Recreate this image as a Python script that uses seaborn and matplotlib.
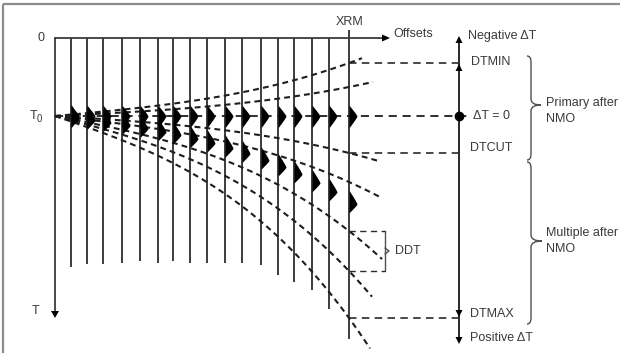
import numpy as np
import matplotlib
matplotlib.use("Agg")
import matplotlib.pyplot as plt
from matplotlib.path import Path
from matplotlib.patches import PathPatch, Polygon
import seaborn as sns

# ---- gather geometry (drawing units: x = offset position, y = time, downward) ----
trace_offsets = [71, 87, 103, 122, 140, 158, 173, 190, 207, 225, 242, 261, 278, 294, 312, 329, 349]
trace_bottoms = [267, 264, 264, 263, 261, 263, 261, 263, 263, 263, 263, 265, 275, 282, 290, 309, 339]
origin_x = 55          # position of the T axis (zero offset)
zero_time = 38         # time 0 line
t0_time = 116          # T0
xrm_offset = 349       # XRM trace
xrm_top = 30

# residual moveout of each dashed curve at XRM (negative = over-corrected)
curve_names = ["DTMIN", "neg", "DTCUT", "mult", "DDT top", "DDT bottom", "DTMAX"]
curve_dt = [-53, -29, 37, 66, 115, 155, 202]
curve_ends = [362, 373, 377, 380, 382, 372, 370]
multiple_dt = 88       # moveout of the multiple event at XRM

# right-hand delta-T scale
scale_x = 459
scale_labels = ["Negative \u0394T", "DTMIN", "\u0394T = 0", "DTCUT", "DTMAX", "Positive \u0394T"]
brace_labels = ["Primary after\nNMO", "Multiple after\nNMO"]

sns.set_theme(style="white")
plt.rcParams["font.family"] = ["Liberation Sans", "DejaVu Sans"]

fig = plt.figure(figsize=(6.2, 3.53), dpi=100)
ax = fig.add_axes([0, 0, 1, 1])

ink = "#2a2a2a"
text_c = "#3a3a3a"
fs = 9


def moveout(x, dt, lin=0.5):
    u = (np.asarray(x, dtype=float) - origin_x) / (xrm_offset - origin_x)
    return t0_time + dt * (lin * u + (1 - lin) * u ** 3)


def triangle(x, tip, direction, w=7.0, h=7.0):
    if direction == "up":
        pts = [(x, tip), (x - w / 2, tip + h), (x + w / 2, tip + h)]
    elif direction == "down":
        pts = [(x, tip), (x - w / 2, tip - h), (x + w / 2, tip - h)]
    else:  # right
        pts = [(tip, x), (tip - h, x - w / 2), (tip - h, x + w / 2)]
    ax.add_patch(Polygon(pts, closed=True, color="black", lw=0, zorder=6))


def wavelet(x, yc, up, down, amp):
    y = np.linspace(yc - up, yc + down, 80)
    u = np.where(y < yc, (yc - y) / up, (y - yc) / down)
    w = amp * (1 - u ** 1.2) ** 1.1
    ax.fill_betweenx(y, x, x + w, color="black", lw=0, zorder=4)


def brace(x, y0, y1, tip_x, ym=None):
    ym = (y0 + y1) / 2 if ym is None else ym
    r = 6
    verts = [(x - 4, y0), (x, y0), (x, y0 + r),
             (x, ym - r),
             (x, ym), (tip_x, ym),
             (x, ym), (x, ym + r),
             (x, y1 - r),
             (x, y1), (x - 4, y1)]
    codes = [Path.MOVETO, Path.CURVE3, Path.CURVE3,
             Path.LINETO,
             Path.CURVE3, Path.CURVE3,
             Path.CURVE3, Path.CURVE3,
             Path.LINETO,
             Path.CURVE3, Path.CURVE3]
    ax.add_patch(PathPatch(Path(verts, codes), fill=False, ec="#505050", lw=1.0, zorder=3))


# frame edges
ax.plot([3, 3], [4, 353], color="#8c8c8c", lw=1.6, solid_capstyle="butt")
ax.plot([3, 620], [4, 4], color="#8c8c8c", lw=1.6, solid_capstyle="butt")

# axes of the gather
ax.plot([origin_x, 383], [zero_time, zero_time], color=ink, lw=1.2)
triangle(zero_time, 390, "right", w=7, h=8)
ax.plot([origin_x, origin_x], [zero_time, 311], color=ink, lw=1.2)
triangle(origin_x, 318, "down", w=8, h=7)

# traces
for x, yb in zip(trace_offsets, trace_bottoms):
    top = xrm_top if x == xrm_offset else zero_time
    ax.plot([x, x], [top, yb], color="#3c3c3c", lw=1.4, zorder=2, solid_capstyle="butt")

# dashed residual-moveout curves
for dt, xe in zip(curve_dt, curve_ends):
    xs = np.linspace(origin_x, xe, 120)
    sns.lineplot(x=xs, y=moveout(xs, dt), ax=ax, color="#1e1e1e", lw=1.5,
                 linestyle=(0, (2.8, 2.0)), estimator=None, sort=False, zorder=3)

# flat primary after NMO
ax.plot([origin_x, 467], [t0_time, t0_time], color="#1e1e1e", lw=1.3,
        linestyle=(0, (4.5, 3.2)), zorder=3)

# wavelets: flat primary and under-corrected multiple
for x in trace_offsets:
    wavelet(x, t0_time, 11, 12, 8)
    wavelet(x, float(moveout(x, multiple_dt, lin=0.45)), 14, 9, 8)

# connectors from XRM to the delta-T scale
for dt in (curve_dt[0], curve_dt[2], curve_dt[-1]):
    y = t0_time + dt
    ax.plot([xrm_offset, scale_x], [y, y], color="#2a2a2a", lw=1.2,
            linestyle=(0, (4.5, 3.2)), zorder=3)

# DDT bracket
ddt_top = t0_time + curve_dt[4]
ddt_bot = t0_time + curve_dt[5]
ddt_mid = (ddt_top + ddt_bot) / 2
for y in (ddt_top, ddt_bot):
    ax.plot([xrm_offset, 385], [y, y], color="#2a2a2a", lw=1.0,
            linestyle=(0, (4.5, 3.2)), zorder=3)
ax.plot([385, 385], [ddt_top, ddt_bot], color="#505050", lw=1.0)
ax.plot([385, 389, 385], [ddt_mid - 3, ddt_mid, ddt_mid + 3], color="#505050", lw=1.0)
ax.text(395, ddt_mid, "DDT", fontsize=fs, color=text_c, va="center", ha="left")

# delta-T scale
dtmin_y = t0_time + curve_dt[0]
dtcut_y = t0_time + curve_dt[2]
dtmax_y = t0_time + curve_dt[-1]
ax.plot([scale_x, scale_x], [40, 338], color=ink, lw=1.4, zorder=5)
triangle(scale_x, 36, "up")
triangle(scale_x, dtmin_y + 1, "up")
triangle(scale_x, dtmax_y - 1, "down")
triangle(scale_x, 344, "down")
ax.plot([scale_x], [t0_time], marker="o", ms=6, color="black", zorder=6)

ax.text(468, 36, scale_labels[0], fontsize=fs, color=text_c, va="center")
ax.text(471, dtmin_y - 1, scale_labels[1], fontsize=fs, color=text_c, va="center")
ax.text(473, t0_time, scale_labels[2], fontsize=fs, color=text_c, va="center")
ax.text(470, dtcut_y - 5, scale_labels[3], fontsize=fs, color=text_c, va="center")
ax.text(470, dtmax_y - 4, scale_labels[4], fontsize=fs, color=text_c, va="center")
ax.text(470, 338, scale_labels[5], fontsize=fs, color=text_c, va="center")

# braces
brace(531, 56, 160, 541, ym=105)
brace(531, 162, 324, 542, ym=241)
ax.text(546, 111, brace_labels[0], fontsize=fs, color=text_c, va="center", linespacing=1.45)
ax.text(546, 241, brace_labels[1], fontsize=fs, color=text_c, va="center", linespacing=1.45)

# axis annotations
ax.text(41, zero_time, "0", fontsize=fs, color=text_c, va="center", ha="center")
ax.text(30, t0_time, "T", fontsize=fs, color=text_c, va="center", ha="left")
ax.text(37, t0_time + 3, "0", fontsize=fs - 2, color=text_c, va="center", ha="left")
ax.text(36, 311, "T", fontsize=fs, color=text_c, va="center", ha="center")
ax.text(xrm_offset + 1, 22, "XRM", fontsize=fs, color=text_c, va="center", ha="center")
ax.text(393, 34, "Offsets", fontsize=fs, color=text_c, va="center", ha="left")

ax.set_xlim(0, 620)
ax.set_ylim(353, 0)
ax.axis("off")
fig.savefig("out.png", dpi=100, facecolor="white")
